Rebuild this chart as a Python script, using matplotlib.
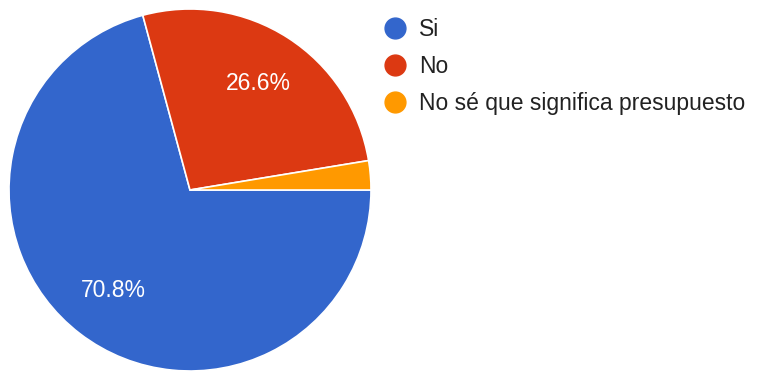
import matplotlib.pyplot as plt
from matplotlib.lines import Line2D

plt.rcParams['font.family'] = ['Liberation Sans', 'DejaVu Sans']

labels = ['Si', 'No', 'No sé que significa presupuesto']
shares = [70.8, 26.6, 2.6]
colors = ['#3366cc', '#dc3912', '#ff9900']

W, H = 765, 371
fig = plt.figure(figsize=(W / 100, H / 100), dpi=100)
# pie box: radius 181 px, centre at (190, 190) from the top-left
ax = fig.add_axes([9 / W, 0, 362 / W, 362 / H])


def pct_label(p):
    # small slices get no label inside
    return f'{p:.1f}%' if p >= 5 else ''


wedges, _, autotexts = ax.pie(
    shares, colors=colors, startangle=0, counterclock=False,
    autopct=pct_label, pctdistance=0.7,
    wedgeprops=dict(edgecolor='white', linewidth=1.2),
    textprops=dict(color='white', fontsize=16.5))
ax.set_xlim(-1, 1)
ax.set_ylim(-1, 1)
ax.set_aspect('equal')

handles = [Line2D([], [], marker='o', linestyle='none', markersize=15,
                  markerfacecolor=c, markeredgecolor=c) for c in colors]
fig.legend(handles, labels, loc='upper left', bbox_to_anchor=(374 / W, 1 - 9 / H),
           frameon=False, fontsize=16.5, handlelength=1.0, handletextpad=0.55,
           labelspacing=0.6, borderaxespad=0, labelcolor='#222222')

fig.savefig('out.png', dpi=100, facecolor='white')
